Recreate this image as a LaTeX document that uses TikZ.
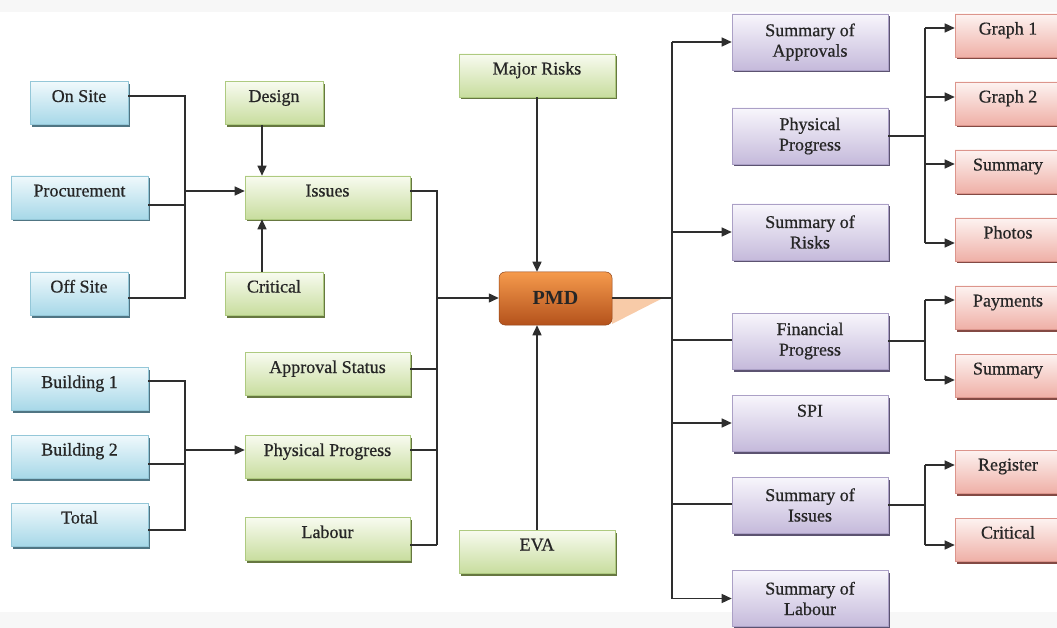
\documentclass[tikz,border=0pt]{standalone}
\usepackage{fontspec}
\setmainfont{Liberation Serif}
\newfontfamily\boxfont{Liberation Serif}[FakeBold=0.6]
\usetikzlibrary{shadows,arrows.meta}
\definecolor{txt}{HTML}{262626}
\definecolor{ln}{HTML}{2E2E2E}
\definecolor{bluetop}{HTML}{F0F9FC}\definecolor{bluebot}{HTML}{A7D8E8}\definecolor{bluebd}{HTML}{94C7D8}\definecolor{blueshd}{HTML}{3E6676}
\definecolor{greentop}{HTML}{F8FBF0}\definecolor{greenbot}{HTML}{C8DD9E}\definecolor{greenbd}{HTML}{AECA80}\definecolor{greenshd}{HTML}{56692C}
\definecolor{purtop}{HTML}{F8F6FC}\definecolor{purbot}{HTML}{C5BADB}\definecolor{purbd}{HTML}{ABA0C6}\definecolor{purshd}{HTML}{4B4162}
\definecolor{pinktop}{HTML}{FDF3F1}\definecolor{pinkbot}{HTML}{EFB0A7}\definecolor{pinkbd}{HTML}{DC958C}\definecolor{pinkshd}{HTML}{763730}
\definecolor{orgtop}{HTML}{F59A4C}\definecolor{orgbot}{HTML}{B4521C}\definecolor{peach}{HTML}{F8CBA8}
\tikzset{
  box/.style={rectangle, line width=0.6pt, text=txt, inner xsep=2pt, inner ysep=0pt,
    font=\boxfont\fontsize{18}{20.5}\selectfont},
  oneline/.style={minimum height=43pt, text height=20.5pt, text depth=22.5pt},
  bluebox/.style={box, oneline, draw=bluebd, top color=bluetop, bottom color=bluebot,
    drop shadow={shadow xshift=1.5pt, shadow yshift=-2.5pt, fill=blueshd, opacity=0.9}},
  greenbox/.style={box, oneline, draw=greenbd, top color=greentop, bottom color=greenbot,
    drop shadow={shadow xshift=1.5pt, shadow yshift=-2.5pt, fill=greenshd, opacity=0.9}},
  pinkbox/.style={box, oneline, minimum width=106pt, draw=pinkbd, top color=pinktop, bottom color=pinkbot,
    drop shadow={shadow xshift=1.5pt, shadow yshift=-2.5pt, fill=pinkshd, opacity=0.9}},
  purbox/.style={box, align=center, minimum width=156pt, minimum height=56pt, draw=purbd,
    top color=purtop, bottom color=purbot,
    drop shadow={shadow xshift=1.5pt, shadow yshift=-2.5pt, fill=purshd, opacity=0.9}},
  pmdbox/.style={rectangle, rounded corners=6pt, minimum width=113pt, minimum height=53pt,
    top color=orgtop, bottom color=orgbot, draw=orgbot!80!black, line width=0.5pt,
    text=black!85, font=\fontsize{20}{22}\selectfont\bfseries, text height=16pt, text depth=4pt},
  conn/.style={draw=ln, line width=1.4pt},
  arr/.style={conn, -{Triangle[length=10pt,width=9pt]}}
}
\begin{document}
\begin{tikzpicture}[x=1pt,y=-1pt]
\useasboundingbox (0,0) rectangle (1057,628);
\clip (0,0) rectangle (1057,628);
\fill[white] (0,0) rectangle (1057,628);
\fill[black!3] (0,0) rectangle (1057,12);
\fill[black!3] (0,612) rectangle (1057,628);

% blue
\node[bluebox, minimum width=98pt]  (onsite)  at (79,103)   {On Site};
\node[bluebox, minimum width=137pt] (proc)    at (79.5,197.5) {Procurement};
\node[bluebox, minimum width=98pt]  (offsite) at (79,293.5) {Off Site};
\node[bluebox, minimum width=137pt] (bld1)    at (79.5,389) {Building 1};
\node[bluebox, minimum width=137pt] (bld2)    at (79.5,456.5) {Building 2};
\node[bluebox, minimum width=137pt] (total)   at (79.5,524.5) {Total};

% green
\node[greenbox, minimum width=98pt]  (design)   at (274,103)   {Design};
\node[greenbox, minimum width=165pt] (issues)   at (327.5,197.5) {Issues};
\node[greenbox, minimum width=98pt]  (critical) at (274,293.5) {Critical};
\node[greenbox, minimum width=165pt] (approval) at (327.5,374) {Approval Status};
\node[greenbox, minimum width=165pt] (physprog) at (327.5,457) {Physical Progress};
\node[greenbox, minimum width=165pt] (labour)   at (327.5,539) {Labour};
\node[greenbox, minimum width=156pt] (major)    at (537,75.5)  {Major Risks};
\node[greenbox, minimum width=156pt] (eva)      at (537,551.5) {EVA};

% PMD
\fill[peach] (612,299) -- (661,299) -- (612,324) -- cycle;
\node[pmdbox] (pmd) at (555.5,298.5) {PMD};

% purple
\node[purbox] (sapp)  at (810,42)    {Summary of\\Approvals};
\node[purbox] (pphys) at (810,136)   {Physical\\Progress};
\node[purbox] (srisk) at (810,232)   {Summary of\\Risks};
\node[purbox] (fin)   at (810,341)   {Financial\\Progress};
\node[purbox] (spi)   at (810,423)   {SPI\\[-2pt]\strut};
\node[purbox] (siss)  at (810,505)   {Summary of\\Issues};
\node[purbox] (slab)  at (810,598.5) {Summary of\\Labour};

% pink
\node[pinkbox] (g1)     at (1008,35.5)  {Graph 1};
\node[pinkbox] (g2)     at (1008,103.5) {Graph 2};
\node[pinkbox] (summ1)  at (1008,171.5) {Summary};
\node[pinkbox] (photos) at (1008,239.5) {Photos};
\node[pinkbox] (pay)    at (1008,307.5) {Payments};
\node[pinkbox] (summ2)  at (1008,375.5) {Summary};
\node[pinkbox] (reg)    at (1008,471.5) {Register};
\node[pinkbox] (crit)   at (1008,539.5) {Critical};

% junction coordinates
\coordinate (jb) at (185,191);
\coordinate (jc) at (185,450);
\coordinate (jg) at (437,298);
\coordinate (jp) at (672,298);
\coordinate (jr) at (925,136);

% blue -> issues
\draw[conn] ([yshift=7pt]onsite.east) -| ([yshift=-4.5pt]offsite.east -| jb) -- ([yshift=-4.5pt]offsite.east);
\draw[conn] ([yshift=-7.5pt]proc.east) -- ([yshift=-7.5pt]proc.east -| jb);
\draw[arr] (jb) -- (jb -| issues.west);
\draw[arr] (design.south -| 262,0) -- (issues.north -| 262,0);
\draw[arr] (critical.north -| 262,0) -- (issues.south -| 262,0);

% buildings -> physical progress
\draw[conn] ([yshift=8pt]bld1.east) -| ([yshift=-5.5pt]total.east -| jc) -- ([yshift=-5.5pt]total.east);
\draw[conn] ([yshift=-7.5pt]bld2.east) -- ([yshift=-7.5pt]bld2.east -| jc);
\draw[arr] (jc) -- (jc -| physprog.west);

% green -> PMD
\draw[conn] ([yshift=6.5pt]issues.east) -| ([yshift=-6pt]labour.east -| jg);
\draw[conn, line width=2.2pt] ([yshift=-6pt]labour.east) -- ([yshift=-6pt]labour.east -| jg);
\draw[conn] ([yshift=5pt]approval.east) -- ([yshift=5pt]approval.east -| jg);
\draw[conn] ([yshift=7pt]physprog.east) -- ([yshift=7pt]physprog.east -| jg);
\draw[arr] (jg) -- (jg -| pmd.west);
\draw[arr] (major.south) -- (major.south |- pmd.north);
\draw[arr] (eva.north) -- (eva.north |- pmd.south);

% PMD -> purple
\draw[conn] (pmd.east |- jp) -- (jp);
\draw[conn] (sapp.west -| jp) -- (slab.west -| jp);
\draw[arr] (sapp.west -| jp) -- (sapp.west);
\draw[arr] (srisk.west -| jp) -- (srisk.west);
\draw[conn] ([yshift=1pt]fin.west -| jp) -- ([yshift=1pt]fin.west);
\draw[arr] (spi.west -| jp) -- (spi.west);
\draw[conn] ([yshift=1pt]siss.west -| jp) -- ([yshift=1pt]siss.west);
\draw[arr] (slab.west -| jp) -- (slab.west);

% purple -> pink
\draw[conn] (pphys.east) -- (jr);
\draw[conn] ([yshift=7.5pt]g1.west -| jr) -- ([yshift=-3.5pt]photos.west -| jr);
\draw[arr] ([yshift=7.5pt]g1.west -| jr) -- ([yshift=7.5pt]g1.west);
\draw[arr] ([yshift=6.5pt]g2.west -| jr) -- ([yshift=6.5pt]g2.west);
\draw[arr] ([yshift=7.5pt]summ1.west -| jr) -- ([yshift=7.5pt]summ1.west);
\draw[arr] ([yshift=-3.5pt]photos.west -| jr) -- ([yshift=-3.5pt]photos.west);

\coordinate (jf) at (925,341);
\draw[conn] (fin.east) -- (jf);
\draw[conn] ([yshift=7.5pt]pay.west -| jf) -- ([yshift=-4.5pt]summ2.west -| jf);
\draw[arr] ([yshift=7.5pt]pay.west -| jf) -- ([yshift=7.5pt]pay.west);
\draw[arr] ([yshift=-4.5pt]summ2.west -| jf) -- ([yshift=-4.5pt]summ2.west);

\coordinate (ji) at (925,505);
\draw[conn] (siss.east) -- (ji);
\draw[conn] ([yshift=6.5pt]reg.west -| ji) -- ([yshift=-5.5pt]crit.west -| ji);
\draw[arr] ([yshift=6.5pt]reg.west -| ji) -- ([yshift=6.5pt]reg.west);
\draw[arr] ([yshift=-5.5pt]crit.west -| ji) -- ([yshift=-5.5pt]crit.west);
\end{tikzpicture}
\end{document}
